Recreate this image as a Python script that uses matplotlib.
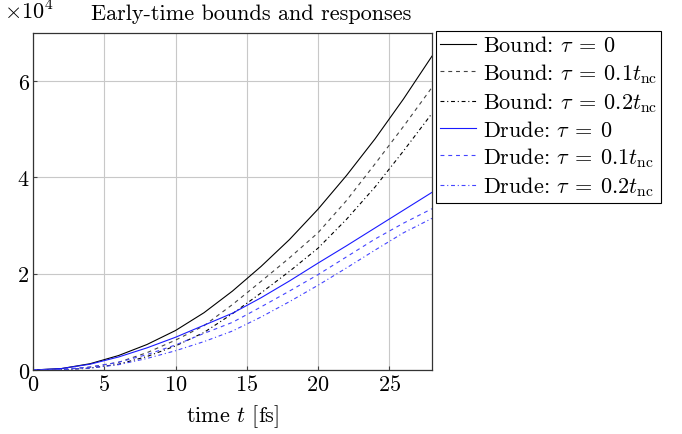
import matplotlib
matplotlib.use("Agg")
import matplotlib.pyplot as plt
from matplotlib.ticker import FuncFormatter, MultipleLocator

plt.rcParams['font.family'] = 'serif'
plt.rcParams['font.serif'] = ['cmr10', 'DejaVu Serif']
plt.rcParams['mathtext.fontset'] = 'cm'
plt.rcParams['axes.formatter.use_mathtext'] = True

t = [0, 2, 4, 6, 8, 10, 12, 14, 16, 18, 20, 22, 24, 26, 28]
bound_0 = [0, 0.03, 0.13, 0.30, 0.53, 0.82, 1.19, 1.64, 2.15, 2.71, 3.34, 4.04, 4.80, 5.63, 6.52]
bound_01 = [0, 0.01, 0.06, 0.16, 0.36, 0.62, 0.92, 1.36, 1.84, 2.33, 2.85, 3.52, 4.28, 5.06, 5.87]
bound_02 = [0, 0.005, 0.04, 0.12, 0.28, 0.50, 0.78, 1.17, 1.60, 2.05, 2.53, 3.13, 3.80, 4.55, 5.33]
drude_0 = [0, 0.03, 0.12, 0.27, 0.46, 0.68, 0.93, 1.18, 1.50, 1.85, 2.22, 2.58, 2.95, 3.32, 3.69]
drude_01 = [0, 0.01, 0.06, 0.16, 0.32, 0.52, 0.76, 0.99, 1.31, 1.64, 1.98, 2.35, 2.72, 3.05, 3.35]
drude_02 = [0, 0.005, 0.04, 0.11, 0.24, 0.40, 0.59, 0.81, 1.10, 1.42, 1.76, 2.12, 2.49, 2.85, 3.15]
scale = 1e4

labels = [r"Bound: $\tau\:=\:0$", r"Bound: $\tau\:=\:0.1t_{\mathrm{nc}}$", r"Bound: $\tau\:=\:0.2t_{\mathrm{nc}}$",
          r"Drude: $\tau\:=\:0$", r"Drude: $\tau\:=\:0.1t_{\mathrm{nc}}$", r"Drude: $\tau\:=\:0.2t_{\mathrm{nc}}$"]

FS = 16
fig = plt.figure(figsize=(6.82, 4.35), dpi=100)
ax = fig.add_axes([33/682, 1-371/435, (432-33)/682, (371-34)/435])

dash = (0, (3.5, 3.5))
dashdot = (0, (3.5, 2.5, 1, 2.5))
series = [
    (bound_0, 'black', '-', labels[0]),
    (bound_01, '#444444', dash, labels[1]),
    (bound_02, 'black', dashdot, labels[2]),
    (drude_0, '#1a1aff', '-', labels[3]),
    (drude_01, '#4444ff', dash, labels[4]),
    (drude_02, '#4444ff', dashdot, labels[5]),
]
for vals, c, ls, lab in series:
    ax.plot(t, [v * scale for v in vals], color=c, linestyle=ls, linewidth=0.8, label=lab)

ax.set_xlim(0, 28)
ax.set_ylim(0, 7e4)
ax.xaxis.set_major_locator(MultipleLocator(5))
ax.yaxis.set_major_locator(MultipleLocator(2e4))
ax.yaxis.set_major_formatter(FuncFormatter(lambda v, p: f"{v/1e4:.0f}"))
ax.grid(True, color='#c8c8c8', linewidth=0.8)
ax.set_axisbelow(True)
ax.tick_params(direction='in', length=3, labelsize=FS, color='#444444', pad=3)
for s in ax.spines.values():
    s.set_linewidth(0.9)
    s.set_color('#333333')
ax.set_xlabel(r"time $t$ [fs]", fontsize=FS, labelpad=6)

fig.text(4/682, 1-20/435, r"$\times10^4$", fontsize=FS, va='baseline', ha='left')
fig.text(251/682, 1-20/435, "Early-time bounds and responses", fontsize=FS, va='baseline', ha='center')

leg = ax.legend(loc='upper left', bbox_to_anchor=(436/682, 1-32/435), bbox_transform=fig.transFigure,
                fontsize=FS, frameon=True, fancybox=False, borderaxespad=0, labelspacing=0.25,
                handlelength=1.6, handletextpad=0.3, borderpad=0.2)
leg.get_frame().set_edgecolor('black')
leg.get_frame().set_linewidth(0.8)
leg.get_frame().set_alpha(1)

fig.savefig("out.png", dpi=100)
